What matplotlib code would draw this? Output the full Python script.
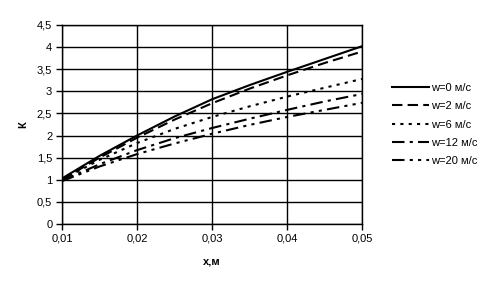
import numpy as np
import matplotlib
matplotlib.use("Agg")
import matplotlib.pyplot as plt
from matplotlib.ticker import FuncFormatter

plt.rcParams['font.family'] = ['Liberation Sans', 'DejaVu Sans']

# x, m
x = [0.01, 0.015, 0.02, 0.025, 0.03, 0.035, 0.04, 0.045, 0.05]
# K for each air speed
k_w0 = [1.03, 1.54, 2.0, 2.43, 2.82, 3.14, 3.44, 3.73, 4.02]
k_w2 = [1.0, 1.5, 1.95, 2.36, 2.73, 3.06, 3.36, 3.64, 3.9]
k_w6 = [1.0, 1.45, 1.83, 2.15, 2.42, 2.66, 2.88, 3.08, 3.28]
k_w12 = [0.98, 1.35, 1.67, 1.94, 2.17, 2.38, 2.58, 2.77, 2.94]
k_w20 = [0.97, 1.3, 1.58, 1.82, 2.04, 2.24, 2.42, 2.58, 2.74]
labels = ["w=0 м/с", "w=2 м/с", "w=6 м/с", "w=12 м/с", "w=20 м/с"]

fig = plt.figure(figsize=(4.9, 2.89), dpi=100)
ax = fig.add_axes([0.1265, 0.2249, 0.6123, 0.6886])

styles = ['-', (0, (5, 2.5)), (0, (1.5, 2.5)), (0, (6, 2.5, 1.5, 2.5)), (0, (6, 2.5, 1.5, 2.5, 1.5, 2.5))]
for ys, ls, lab in zip([k_w0, k_w2, k_w6, k_w12, k_w20], styles, labels):
    ax.plot(x, ys, color='black', lw=1.5, linestyle=ls, label=lab)

ax.set_xlim(0.01, 0.05)
ax.set_ylim(0, 4.5)
ax.set_xticks([0.01, 0.02, 0.03, 0.04, 0.05])
ax.set_yticks(np.arange(0, 4.51, 0.5))
ax.xaxis.set_major_formatter(FuncFormatter(lambda v, p: ("%.2f" % v).replace('.', ',')))
ax.yaxis.set_major_formatter(FuncFormatter(lambda v, p: ("%g" % v).replace('.', ',')))
ax.grid(True, color='black', lw=1)
ax.tick_params(labelsize=8, direction='out', length=4, width=1, colors='black', pad=3)
for s in ax.spines.values():
    s.set_linewidth(1)

ax.set_xlabel("x,м", fontsize=8, fontweight='bold', labelpad=9)
ax.set_ylabel("К", fontsize=8, fontweight='bold', labelpad=6)

ax.legend(loc='center left', bbox_to_anchor=(1.08, 0.5), frameon=False, fontsize=8,
          handlelength=3.4, handletextpad=0.15, labelspacing=0.75, borderpad=0)

fig.savefig("out.png", dpi=100)
